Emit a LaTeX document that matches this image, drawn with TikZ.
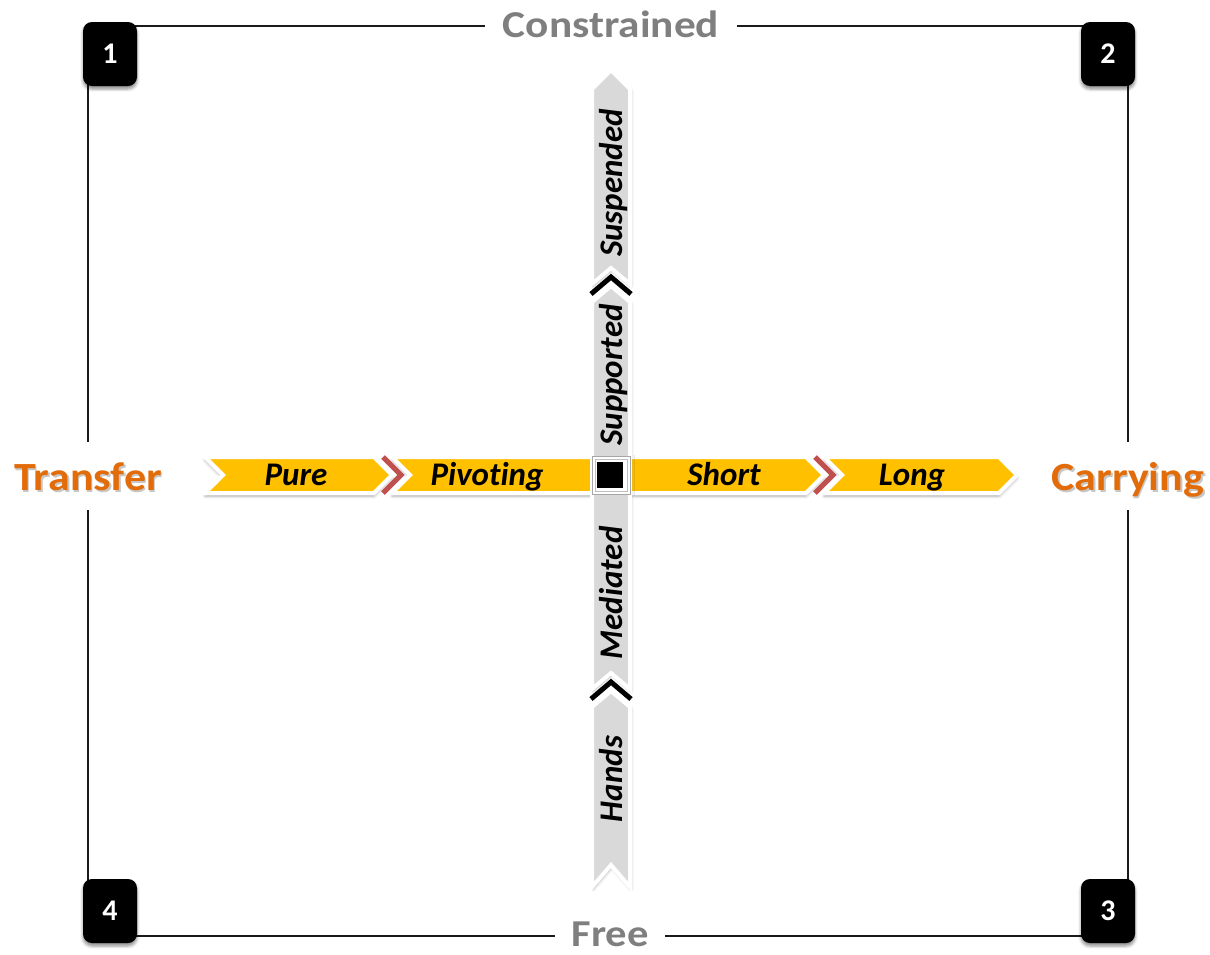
\documentclass[tikz,border=0pt]{standalone}
\usepackage{fontspec}
\setmainfont{Carlito}[Ligatures=NoCommon]
\usetikzlibrary{shadows.blur}

\definecolor{bandyellow}{HTML}{FFC000}
\definecolor{bandgray}{HTML}{D9D9D9}
\definecolor{sepred}{HTML}{C0504D}
\definecolor{axisgray}{HTML}{7F7F7F}
\definecolor{poleorange}{HTML}{E36C0A}
\definecolor{frameink}{HTML}{1A1A1A}

% text with a soft drop shadow behind it
\newcommand{\shadowtext}[1]{\makebox[0pt][l]{\hspace{1.5pt}\raisebox{-2pt}{\textcolor{black!22}{#1}}}#1}

\begin{document}
\begin{tikzpicture}[x=1pt,y=-1pt,
  frameline/.style={line width=1.4pt, draw=frameink},
  badge/.style={fill=black, rounded corners=9pt, minimum width=54pt,
    minimum height=64pt, inner sep=0pt, text=white,
    font=\fontsize{30}{30}\selectfont\bfseries,
    blur shadow={shadow xshift=0pt, shadow yshift=-3pt,
      shadow blur radius=3pt, shadow opacity=45}},
  axislabel/.style={inner sep=0pt, text=axisgray,
    font=\fontsize{38}{38}\selectfont\bfseries,
    text height=25pt, text depth=3pt},
  polelabel/.style={inner sep=0pt, minimum height=68pt, text=poleorange,
    font=\fontsize{40}{40}\selectfont\bfseries,
    text height=28pt, text depth=0pt},
  yseg/.style={fill=bandyellow, draw=white, line width=4pt, line join=miter,
    blur shadow={shadow xshift=0pt, shadow yshift=-3pt,
      shadow blur radius=3pt, shadow opacity=35}},
  gseg/.style={fill=bandgray, draw=white, line width=4pt, line join=miter,
    blur shadow={shadow xshift=1pt, shadow yshift=-2pt,
      shadow blur radius=3pt, shadow opacity=35}},
  redsep/.style={draw=sepred, line width=5pt, line join=miter},
  blacksep/.style={draw=black, line width=5pt, line join=miter},
  steplabel/.style={inner sep=0pt, anchor=base,
    font=\fontsize{33}{33}\selectfont\bfseries\itshape},
]
\useasboundingbox (0,0) rectangle (1210,954);

% corners of the quadrant frame
\coordinate (c1) at (88,26);
\coordinate (c2) at (1128,26);
\coordinate (c3) at (1128,936);
\coordinate (c4) at (88,936);

% axis-end labels
\node[axislabel, minimum width=252pt] (con) at (611,26) {\scalebox{1.14}[1]{Constrained}};
\node[axislabel, minimum width=110pt] (free) at (610,935) {\scalebox{1.12}[1]{Free}};
\node[polelabel, minimum width=150pt] (tra) at (88,476)
  {\scalebox{1.1}[1]{\shadowtext{Transfer}}};
\node[polelabel, minimum width=156pt] (car) at (1128,476)
  {\scalebox{1.1}[1]{\shadowtext{Carrying}}};

% frame lines, broken by the labels
\draw[frameline] (c1) -- (con);
\draw[frameline] (con) -- (c2);
\draw[frameline] (c4) -- (c4 -| free.west);
\draw[frameline] (c3 -| free.east) -- (c3);
\draw[frameline] (c1) -- (tra);
\draw[frameline] (tra) -- (c4);
\draw[frameline] (c2) -- (car);
\draw[frameline] (car) -- (c3);

% quadrant badges
\node[badge] (b1) at (110,54) {1};
\node[badge] (b2) at (1108,54) {2};
\node[badge] (b3) at (1108,911) {3};
\node[badge] (b4) at (110,911) {4};

% horizontal process band
\path[yseg] (205,457) -- (374,457) -- (392,475) -- (374,493) -- (205,493) -- (223,475) -- cycle;
\path[yseg] (392,457) -- (806,457) -- (824,475) -- (806,493) -- (392,493) -- (410,475) -- cycle;
\path[yseg] (824,457) -- (999,457) -- (1017,475) -- (999,493) -- (824,493) -- (842,475) -- cycle;
\draw[redsep] (383,457) -- (401,475) -- (383,493);
\draw[redsep] (815,457) -- (833,475) -- (815,493);

% vertical process band
\path[gseg] (611,70) -- (630,89) -- (630,284) -- (611,268) -- (592,284) -- (592,89) -- cycle;
\path[gseg] (611,286) -- (630,302) -- (630,689) -- (611,673) -- (592,689) -- (592,302) -- cycle;
\path[gseg] (611,691) -- (630,707) -- (630,887) -- (611,865) -- (592,887) -- (592,707) -- cycle;
\draw[blacksep] (591,294) -- (611,277) -- (631,294);
\draw[blacksep] (591,699) -- (611,682) -- (631,699);

% centre marker
\draw[fill=white, draw=black!35, line width=0.8pt] (592,456) rectangle (630,494);
\draw[draw=black!25, line width=0.6pt] (595,459) rectangle (627,491);
\fill[black] (597,462) rectangle (623,488);

% step labels
\node[steplabel] (pure) at (296,485) {Pure};
\node[steplabel] (pivot) at (487,485) {Pivoting};
\node[steplabel] (short) at (724,485) {Short};
\node[steplabel] (long) at (912,485) {Long};
\node[steplabel, rotate=90] (susp) at (622,183) {Suspended};
\node[steplabel, rotate=90] (supp) at (622,375) {Supported};
\node[steplabel, rotate=90] (medi) at (622,593) {Mediated};
\node[steplabel, rotate=90] (hand) at (622,779) {Hands};
\end{tikzpicture}
\end{document}
